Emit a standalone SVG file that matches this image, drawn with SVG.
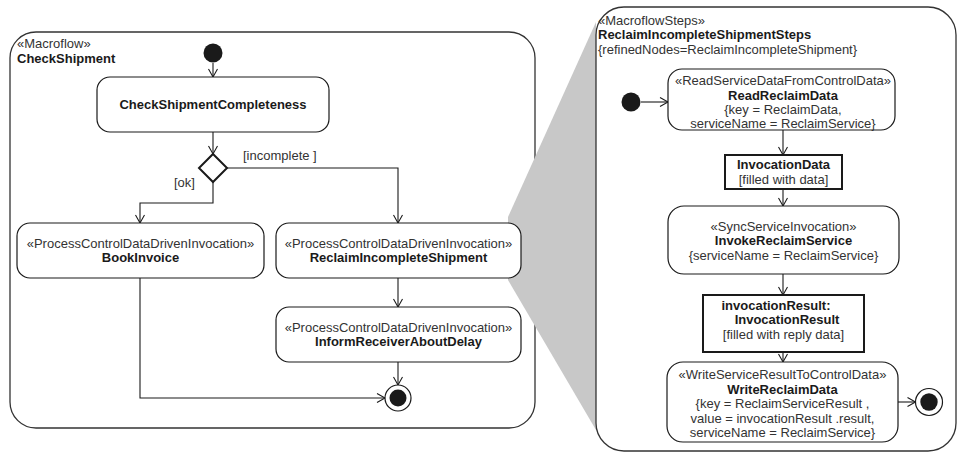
<svg xmlns="http://www.w3.org/2000/svg" width="958" height="453" viewBox="0 0 958 453">
<defs>
<style>
.frame{fill:#fff;stroke:#333;stroke-width:1.3}
.node{fill:#fff;stroke:#1a1a1a;stroke-width:1.2}
.obj{fill:#fff;stroke:#1a1a1a;stroke-width:2}
.edge{fill:none;stroke:#1a1a1a;stroke-width:1.1}
.t{font-family:"Liberation Sans",Arial,sans-serif;font-size:13px;fill:#333}
.b{font-family:"Liberation Sans",Arial,sans-serif;font-size:13px;font-weight:bold;fill:#1a1a1a}
.c{text-anchor:middle}
.dot{fill:#1a1a1a}
</style>
<marker id="arr" markerUnits="userSpaceOnUse" markerWidth="12" markerHeight="12" refX="9" refY="5" orient="auto">
<path d="M1,0.5 L9,5 L1,9.5" fill="none" stroke="#1a1a1a" stroke-width="1.1"/>
</marker>
</defs>
<rect width="958" height="453" fill="#fff"/>

<g id="frame-left">
<rect class="frame" x="10" y="32" width="525" height="396" rx="26"/>
<text class="t" x="17" y="48">«Macroflow»</text>
<text class="b" x="17" y="62.5">CheckShipment</text>
</g>

<g id="zoom-funnel">
<polygon points="508,217 596,22 596,430 508,280" fill="#c8c8c8"/>
</g>

<g id="frame-right">
<rect class="frame" x="596" y="7" width="360" height="444" rx="28"/>
<text class="t" x="598" y="24.5">«MacroflowSteps»</text>
<text class="b" x="598" y="39">ReclaimIncompleteShipmentSteps</text>
<text class="t" x="598" y="53.5">{refinedNodes=ReclaimIncompleteShipment}</text>
</g>

<g id="connectors">
<path class="edge" d="M213,63 V77" marker-end="url(#arr)"/>
<path class="edge" d="M213,132 V154" marker-end="url(#arr)"/>
<path class="edge" d="M227,168 H398 V223" marker-end="url(#arr)"/>
<path class="edge" d="M213,182 V203 H140 V223" marker-end="url(#arr)"/>
<path class="edge" d="M398,278 V307" marker-end="url(#arr)"/>
<path class="edge" d="M398,362 V385" marker-end="url(#arr)"/>
<path class="edge" d="M140,278 V398 H385" marker-end="url(#arr)"/>
<path class="edge" d="M641,102 H668" marker-end="url(#arr)"/>
<path class="edge" d="M783,130 V155" marker-end="url(#arr)"/>
<path class="edge" d="M783,189 V206" marker-end="url(#arr)"/>
<path class="edge" d="M783,274 V295" marker-end="url(#arr)"/>
<path class="edge" d="M783,352 V362" marker-end="url(#arr)"/>
<path class="edge" d="M898,402 H915.5" marker-end="url(#arr)"/>
<text class="t" x="243" y="159.5">[incomplete ]</text>
<text class="t" x="174" y="186.5">[ok]</text>
</g>

<g id="initial-left"><circle class="dot" cx="213" cy="53" r="9.5"/></g>

<g id="check-completeness">
<rect class="node" x="97" y="77" width="232" height="55" rx="13"/>
<text class="b c" x="213" y="108.5">CheckShipmentCompleteness</text>
</g>

<g id="decision">
<polygon points="213,154 227,168 213,182 199,168" fill="#fff" stroke="#1a1a1a" stroke-width="2"/>
</g>

<g id="book-invoice">
<rect class="node" x="17" y="223" width="247" height="55" rx="13"/>
<text class="t c" x="140.5" y="247.5">«ProcessControlDataDrivenInvocation»</text>
<text class="b c" x="140.5" y="262">BookInvoice</text>
</g>

<g id="reclaim-incomplete">
<rect class="node" x="276" y="223" width="245" height="55" rx="13"/>
<text class="t c" x="398.5" y="247.5">«ProcessControlDataDrivenInvocation»</text>
<text class="b c" x="398.5" y="262">ReclaimIncompleteShipment</text>
</g>

<g id="inform-receiver">
<rect class="node" x="276" y="307" width="245" height="55" rx="13"/>
<text class="t c" x="398.5" y="331.5">«ProcessControlDataDrivenInvocation»</text>
<text class="b c" x="398.5" y="346">InformReceiverAboutDelay</text>
</g>

<g id="final-left">
<circle cx="398" cy="398" r="13" fill="#fff" stroke="#1a1a1a" stroke-width="1.2"/>
<circle class="dot" cx="398" cy="398" r="8.5"/>
</g>

<g id="initial-right"><circle class="dot" cx="631" cy="102" r="9.5"/></g>

<g id="read-reclaim">
<rect class="node" x="668" y="69" width="227" height="61" rx="14"/>
<text class="t c" x="783" y="85">«ReadServiceDataFromControlData»</text>
<text class="b c" x="783" y="99.5">ReadReclaimData</text>
<text class="t c" x="783" y="114">{key = ReclaimData,</text>
<text class="t c" x="783" y="128">serviceName = ReclaimService}</text>
</g>

<g id="invocation-data">
<rect class="obj" x="725" y="155" width="117" height="34"/>
<text class="b c" x="783.5" y="168.5">InvocationData</text>
<text class="t c" x="783.5" y="183.5">[filled with data]</text>
</g>

<g id="invoke-reclaim">
<rect class="node" x="668" y="206" width="231" height="68" rx="16"/>
<text class="t c" x="783.5" y="230.5">«SyncServiceInvocation»</text>
<text class="b c" x="783.5" y="245">InvokeReclaimService</text>
<text class="t c" x="783.5" y="259.5">{serviceName = ReclaimService}</text>
</g>

<g id="invocation-result">
<rect class="obj" x="703" y="295" width="161" height="57"/>
<text class="b c" x="776" y="309.5">invocationResult:</text>
<text class="b c" x="787" y="324">InvocationResult</text>
<text class="t c" x="783.5" y="338.5">[filled with reply data]</text>
</g>

<g id="write-reclaim">
<rect class="node" x="667" y="362" width="231" height="80" rx="16"/>
<text class="t c" x="782.5" y="379">«WriteServiceResultToControlData»</text>
<text class="b c" x="782.5" y="393.5">WriteReclaimData</text>
<text class="t c" x="782.5" y="408">{key = ReclaimServiceResult ,</text>
<text class="t c" x="782.5" y="422.5">value = invocationResult .result,</text>
<text class="t c" x="782.5" y="437">serviceName = ReclaimService}</text>
</g>

<g id="final-right">
<circle cx="929" cy="402" r="13.5" fill="#fff" stroke="#1a1a1a" stroke-width="1.2"/>
<circle class="dot" cx="929" cy="402" r="8.7"/>
</g>
</svg>
